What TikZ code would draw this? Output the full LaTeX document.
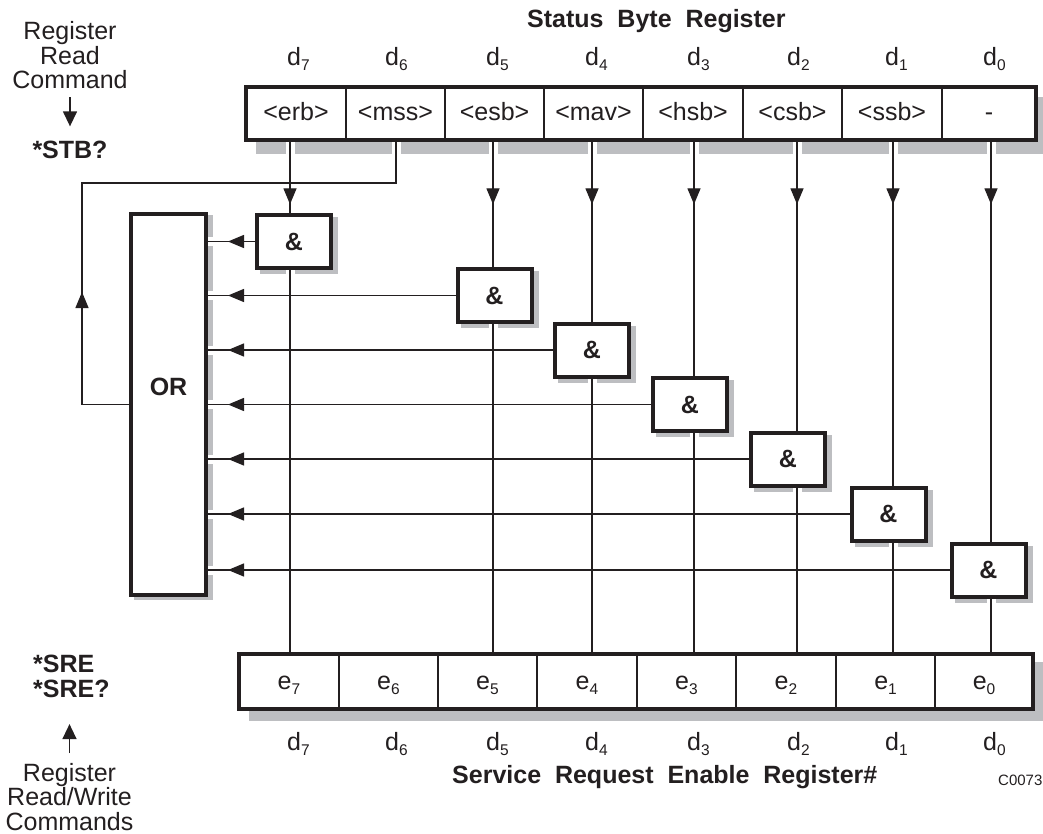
\documentclass[tikz,border=0pt]{standalone}
\usepackage{fontspec}
\setmainfont{Liberation Sans}
\usetikzlibrary{arrows.meta,decorations.markings}
\pgfdeclarelayer{bg}
\pgfdeclarelayer{halo}
\pgfsetlayers{bg,halo,main}
\definecolor{shadowc}{RGB}{189,190,193}
\definecolor{ink}{RGB}{35,31,32}
\newcommand\sbs[1]{\raisebox{-5pt}{\fontsize{15.5}{15.5}\selectfont #1}}
\begin{document}
\begin{tikzpicture}[x=1pt,y=-1pt,
  every node/.style={text=ink, inner sep=0pt},
  font=\fontsize{25}{25}\selectfont,
  boldtxt/.style={font=\fontsize{25}{25}\selectfont\bfseries},
  cell/.style={draw=ink, line width=1.4pt, fill=white, minimum height=53pt,
    inner sep=0pt, outer sep=0pt, text height=18pt, text depth=3pt},
  gate/.style={draw=ink, line width=4pt, fill=white, minimum width=74pt,
    minimum height=53pt, inner sep=0pt, font=\fontsize{25}{25}\selectfont\bfseries},
  regframe/.style={draw=ink, line width=4pt},
  arrowat/.style={postaction={decorate}, decoration={markings,
    mark=at position #1 with {\arrow{Triangle[length=16pt,width=13pt]}}}},
  tipend/.style={-{Triangle[length=15pt,width=14pt]}},
]
\useasboundingbox (0,0) rectangle (1043,834);

% ---------- texts ----------
\node[boldtxt, anchor=base west] (sbrtitle) at (527,28) {Status\ \ Byte\ \ Register};
\node[boldtxt, anchor=base west] (srertitle) at (452,783) {Service\ \ Request\ \ Enable\ \ Register\#};
\node[font=\fontsize{15}{15}\selectfont, anchor=base west] (code) at (998,785) {C0073};

\node[align=center, anchor=north, font=\fontsize{25}{24.75}\selectfont] (rrc) at (70,21) {Register\\Read\\Command};
\node[boldtxt, anchor=base] (stb) at (70,159) {*STB?};
\node[boldtxt, align=left, anchor=north west, font=\fontsize{25}{25}\selectfont\bfseries] (sre) at (33,655) {*SRE\\*SRE?};
\node[align=center, anchor=north, font=\fontsize{25}{24.5}\selectfont] (rrw) at (69.5,763) {Register\\Read/Write\\Commands};

\foreach \lx/\i in {287/7,385/6,486/5,585/4,687/3,787/2,885/1,983/0}{
  \node[anchor=base west] (dt\i) at (\lx,66) {d\sbs{\i}};
  \node[anchor=base west] (db\i) at (\lx,750) {d\sbs{\i}};
}

% ---------- status byte register ----------
\node[cell, minimum width=100pt] (t7) at (296,113.5) {<erb>};
\node[cell, minimum width=99pt]  (t6) at (395.5,113.5) {<mss>};
\node[cell, minimum width=99pt]  (t5) at (494.5,113.5) {<esb>};
\node[cell, minimum width=99pt]  (t4) at (593.5,113.5) {<mav>};
\node[cell, minimum width=100pt] (t3) at (693,113.5) {<hsb>};
\node[cell, minimum width=99pt]  (t2) at (792.5,113.5) {<csb>};
\node[cell, minimum width=100pt] (t1) at (892,113.5) {<ssb>};
\node[cell, minimum width=94pt]  (t0) at (989,113.5) {-};
\draw[regframe] (t7.north west) rectangle (t0.south east);

% ---------- service request enable register ----------
\node[cell, minimum height=55pt, minimum width=100pt] (b7) at (289,681.5) {e\sbs{7}};
\node[cell, minimum height=55pt, minimum width=99pt]  (b6) at (388.5,681.5) {e\sbs{6}};
\node[cell, minimum height=55pt, minimum width=99pt]  (b5) at (487.5,681.5) {e\sbs{5}};
\node[cell, minimum height=55pt, minimum width=100pt] (b4) at (587,681.5) {e\sbs{4}};
\node[cell, minimum height=55pt, minimum width=99pt]  (b3) at (686.5,681.5) {e\sbs{3}};
\node[cell, minimum height=55pt, minimum width=100pt] (b2) at (786,681.5) {e\sbs{2}};
\node[cell, minimum height=55pt, minimum width=99pt]  (b1) at (885.5,681.5) {e\sbs{1}};
\node[cell, minimum height=55pt, minimum width=98pt]  (b0) at (984,681.5) {e\sbs{0}};
\draw[regframe] (b7.north west) rectangle (b0.south east);

% ---------- gates ----------
\node[gate] (g7) at (294,241.5) {\&};
\node[gate] (g5) at (494.5,295.5) {\&};
\node[gate] (g4) at (592,350) {\&};
\node[gate] (g3) at (690,404.5) {\&};
\node[gate] (g2) at (788,459) {\&};
\node[gate] (g1) at (888.5,514) {\&};
\node[gate] (g0) at (988.5,570) {\&};
\node[gate, minimum width=75pt, minimum height=381pt, text height=18pt, text depth=37pt] (or) at (168.5,404.5) {OR};

% ---------- line positions ----------
\coordinate (x7) at (290,0);
\coordinate (x6) at (396,0);
\coordinate (x5) at (493,0);
\coordinate (x4) at (592,0);
\coordinate (x3) at (694,0);
\coordinate (x2) at (797,0);
\coordinate (x1) at (893,0);
\coordinate (x0) at (991,0);
\coordinate (fb) at (82,183);

% ---------- shadows ----------
\begin{pgfonlayer}{bg}
  \fill[white] (0,0) rectangle (1043,834);
  \fill[shadowc] ([shift={(10,10)}]t7.north west) rectangle ([shift={(14,14)}]t0.south east);
  \fill[shadowc] ([shift={(10,8)}]b7.north west) rectangle ([shift={(14,12)}]b0.south east);
  \foreach \g in {g7,g5,g4,g3,g2,g1,g0}{
    \fill[shadowc] ([shift={(5,4)}]\g.north west) rectangle ([shift={(5,4)}]\g.south east);
  }
  \fill[shadowc] ([shift={(5,3)}]or.north west) rectangle ([shift={(5,3)}]or.south east);
\end{pgfonlayer}

\newcommand\allwires{%
  \foreach \i in {7,5,4,3,2,1,0}{
    \draw[wirepass, arrowat=64.3pt] (t\i.south -| x\i) -- (g\i.north -| x\i);
    \draw[wirepass] (g\i.south -| x\i) -- (b\i.north -| x\i);
    \draw[wirepass, arrowat=-20pt] (g\i.west) -- (or.east |- g\i.west);
  }
  \draw[wirepass, arrowat=159.5pt] (or.west) -| (fb) -| (t6.south -| x6);
}

\begin{pgfonlayer}{halo}
  \begin{scope}[wirepass/.style={draw=white, line width=9pt}, arrowat/.style={}]
    \allwires
  \end{scope}
\end{pgfonlayer}

\begin{scope}[wirepass/.style={color=ink, line width=1.4pt}]
  \allwires
\end{scope}

% ---------- command arrows ----------
\draw[color=ink, line width=1.4pt, tipend, shorten <=8pt, shorten >=15pt] (rrc.south) -- (stb.north);
\draw[color=ink, line width=1.4pt, tipend, shorten <=10pt, shorten >=26pt] (rrw.north) -- (sre.south -| rrw.north);
\end{tikzpicture}
\end{document}
